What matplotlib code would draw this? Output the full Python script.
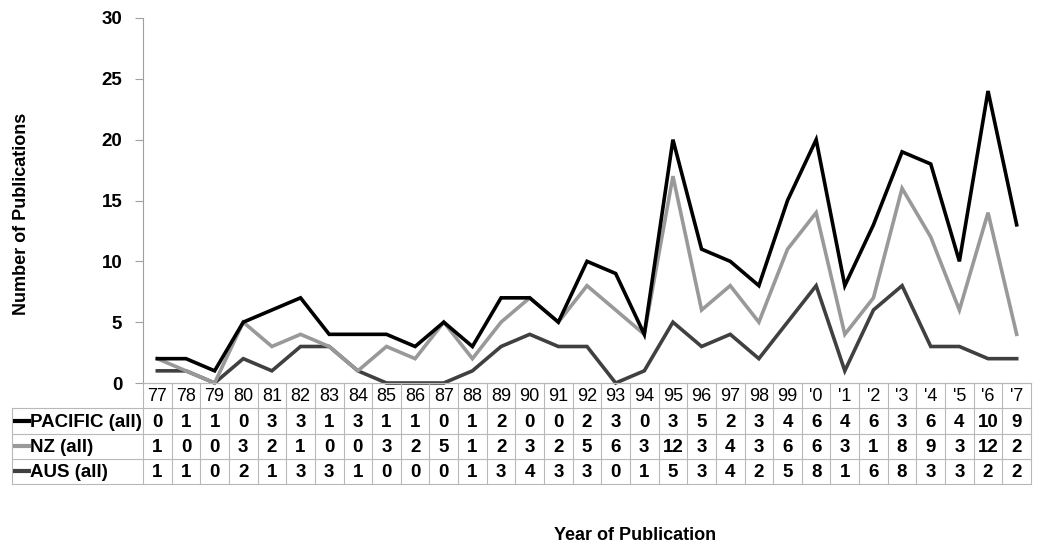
import matplotlib
matplotlib.use("Agg")
import matplotlib.pyplot as plt
import numpy as np

plt.rcParams['font.family'] = ['Liberation Sans', 'DejaVu Sans']

# 出版年份 (表頭)
years = ["77", "78", "79", "80", "81", "82", "83", "84", "85", "86", "87", "88", "89",
         "90", "91", "92", "93", "94", "95", "96", "97", "98", "99", "'0", "'1", "'2",
         "'3", "'4", "'5", "'6", "'7"]

pacific = [0, 1, 1, 0, 3, 3, 1, 3, 1, 1, 0, 1, 2, 0, 0, 2, 3, 0, 3, 5, 2, 3, 4, 6, 4,
           6, 3, 6, 4, 10, 9]
nz = [1, 0, 0, 3, 2, 1, 0, 0, 3, 2, 5, 1, 2, 3, 2, 5, 6, 3, 12, 3, 4, 3, 6, 6, 3,
      1, 8, 9, 3, 12, 2]
aus = [1, 1, 0, 2, 1, 3, 3, 1, 0, 0, 0, 1, 3, 4, 3, 3, 0, 1, 5, 3, 4, 2, 5, 8, 1,
       6, 8, 3, 3, 2, 2]

row_labels = ["PACIFIC (all)", "NZ (all)", "AUS (all)"]
row_colors = ["#000000", "#999999", "#404040"]

W, H = 1041, 545
fig = plt.figure(figsize=(W / 100, H / 100), dpi=100)

left = 143 / W
right = 1031 / W
ax = fig.add_axes([left, 162 / H, right - left, (383 - 18) / H])

x = np.arange(len(years))
# stacked line chart (Excel style): AUS, AUS+NZ, AUS+NZ+PACIFIC
s_aus = np.array(aus)
s_nz = s_aus + np.array(nz)
s_pac = s_nz + np.array(pacific)
ax.plot(x, s_aus, color=row_colors[2], lw=2.6, solid_joinstyle="miter", clip_on=False)
ax.plot(x, s_nz, color=row_colors[1], lw=2.6, solid_joinstyle="miter", clip_on=False)
ax.plot(x, s_pac, color=row_colors[0], lw=2.6, solid_joinstyle="miter", clip_on=False)

ax.set_xlim(-0.5, len(years) - 0.5)
ax.set_ylim(0, 30)
ax.set_yticks(range(0, 31, 5))
ax.set_xticks([])
for t in ax.get_yticklabels():
    t.set_fontweight("bold")
    t.set_fontsize(13.5)
ax.tick_params(axis="y", direction="out", length=6, color="#a0a0a0", pad=9)
for s in ["top", "right"]:
    ax.spines[s].set_visible(False)
ax.spines["left"].set_color("#a0a0a0")
ax.spines["bottom"].set_color("#a0a0a0")

# table below the plot
tab = fig.add_axes([left, 61 / H, right - left, 101 / H])
tab.set_xlim(-0.5, len(years) - 0.5)
tab.set_ylim(4, 0)
tab.axis("off")

grid_c = "#b8b8b8"
lab_left = -0.5 - 131 / ((1031 - 143) / len(years))
# horizontal lines
tab.plot([-0.5, len(years) - 0.5], [0, 0], color=grid_c, lw=0.8, clip_on=False)
for r in range(1, 5):
    tab.plot([lab_left, len(years) - 0.5], [r, r], color=grid_c, lw=0.8, clip_on=False)
# vertical lines
for c in range(len(years) + 1):
    tab.plot([c - 0.5, c - 0.5], [0, 4], color=grid_c, lw=0.8, clip_on=False)
tab.plot([lab_left, lab_left], [1, 4], color=grid_c, lw=0.8, clip_on=False)

for i, y in enumerate(years):
    tab.text(i, 0.55, y, ha="center", va="center", fontsize=13)

for r, (lab, col, vals) in enumerate(zip(row_labels, row_colors, [pacific, nz, aus])):
    yy = r + 1.55
    tab.plot([lab_left + 0.05, lab_left + 0.65], [yy - 0.05, yy - 0.05], color=col, lw=3,
             solid_capstyle="butt", clip_on=False)
    tab.text(lab_left + 0.62, yy, lab, ha="left", va="center", fontsize=13.5,
             fontweight="bold")
    for i, v in enumerate(vals):
        tab.text(i, yy, str(v), ha="center", va="center", fontsize=13.5, fontweight="bold")

fig.text(22 / W, 1 - 214 / H, "Number of Publications", rotation=90, ha="center",
         va="center", fontsize=13, fontweight="bold")
fig.text(635 / W, 1 - 535 / H, "Year of Publication", ha="center", va="center",
         fontsize=13, fontweight="bold")

fig.savefig("out.png", dpi=100)
